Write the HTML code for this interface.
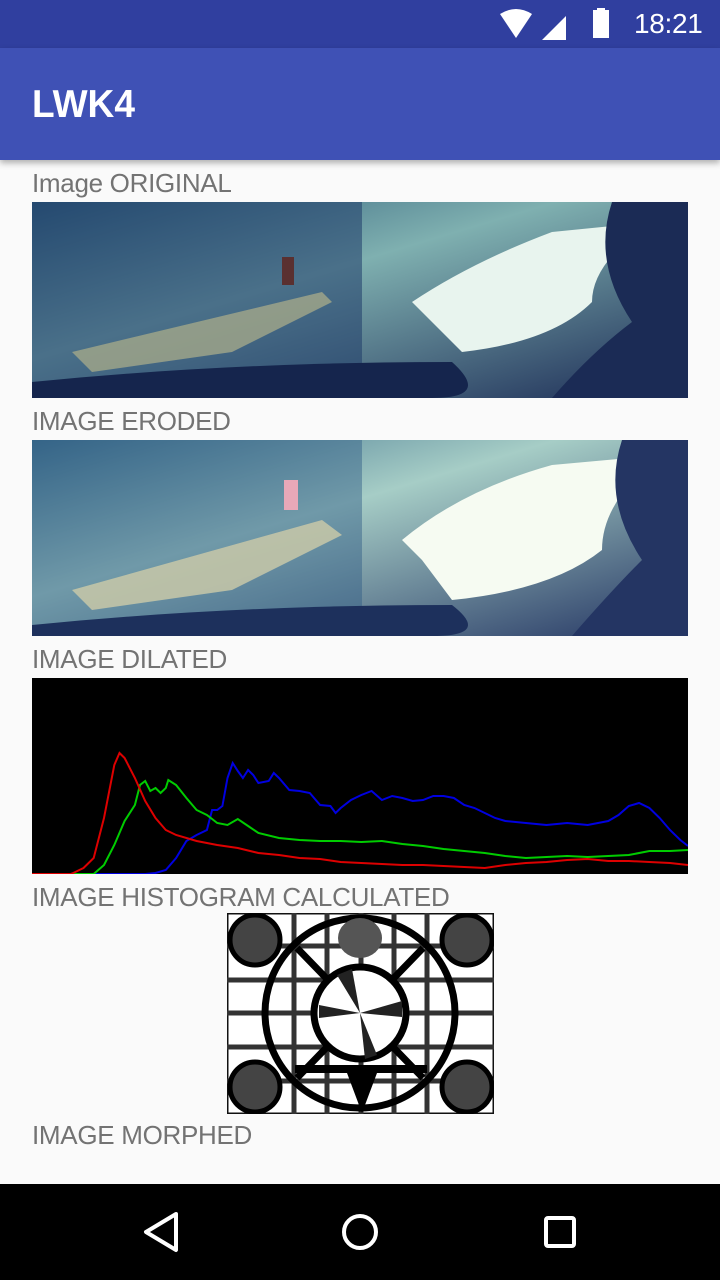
<!DOCTYPE html>
<html><head><meta charset="utf-8">
<style>
*{margin:0;padding:0;box-sizing:border-box}
body{width:720px;height:1280px;background:#fafafa;font-family:"Liberation Sans",sans-serif;position:relative;overflow:hidden}
.abs{position:absolute}
.lbl{position:absolute;left:32px;font-size:26px;color:#737373;letter-spacing:-0.3px;line-height:30px;white-space:nowrap}
</style></head><body>
<div class="abs" style="left:0;top:0;width:720px;height:48px;background:#303f9f">
  <svg class="abs" style="left:496px;top:8px" width="120" height="32">
    <path d="M4 6 Q20 -4 36 6 L20 30 Z" fill="#fff"/>
    <path d="M46 32 L70 8 L70 32 Z" fill="#fff"/>
    <rect x="97" y="2" width="16" height="28" fill="#fff"/><rect x="101" y="0" width="8" height="3" fill="#fff"/>
  </svg>
  <div class="abs" style="left:634px;top:8px;color:#fff;font-size:28px;letter-spacing:-0.3px">18:21</div>
</div>
<div class="abs" style="left:0;top:48px;width:720px;height:112px;background:#3f51b5;box-shadow:0 3px 6px rgba(0,0,0,0.3)">
  <div class="abs" style="left:32px;top:35px;color:#fff;font-size:39px;font-weight:bold;transform:scaleX(0.95);transform-origin:left">LWK4</div>
</div>

<div class="lbl" style="top:168px">Image ORIGINAL</div>
<svg class="abs" style="left:32px;top:202px" width="656" height="196">
  <defs><linearGradient id="g1" x1="0" y1="0" x2="1" y2="1"><stop offset="0" stop-color="#2c5a78"/><stop offset="0.4" stop-color="#7fb0b0"/><stop offset="1" stop-color="#1b2a55"/></linearGradient></defs>
  <rect width="656" height="196" fill="url(#g1)"/>
  <rect x="0" y="0" width="330" height="196" fill="#1f3c6a" opacity="0.55"/>
  <path d="M40 150 L290 90 L300 100 L200 150 L60 170Z" fill="#a3a88a" opacity="0.8"/>
  <path d="M380 100 Q440 60 520 30 L620 20 Q560 60 560 100 Q520 140 430 150 L400 120Z" fill="#e8f4ee"/>
  <path d="M580 0 L656 0 L656 196 L520 196 Q560 150 600 120 Q560 60 580 0Z" fill="#1b2b55"/>
  <path d="M0 180 Q200 160 420 160 Q460 196 400 196 L0 196Z" fill="#15254d"/>
  <rect x="250" y="55" width="12" height="28" fill="#5a3030"/>
</svg>

<div class="lbl" style="top:406px">IMAGE ERODED</div>
<svg class="abs" style="left:32px;top:440px" width="656" height="196">
  <defs><linearGradient id="g2" x1="0" y1="0" x2="1" y2="1"><stop offset="0" stop-color="#3a6c8a"/><stop offset="0.4" stop-color="#a6cdc6"/><stop offset="1" stop-color="#243563"/></linearGradient></defs>
  <rect width="656" height="196" fill="url(#g2)"/>
  <rect x="0" y="0" width="330" height="196" fill="#2f5c84" opacity="0.45"/>
  <path d="M40 150 L290 80 L310 95 L200 150 L60 170Z" fill="#c8c8a8" opacity="0.85"/>
  <path d="M370 100 Q430 50 520 25 L630 15 Q570 60 570 110 Q520 150 420 160 L390 120Z" fill="#f6fbf2"/>
  <path d="M590 0 L656 0 L656 196 L540 196 Q580 150 610 120 Q570 60 590 0Z" fill="#243563"/>
  <path d="M0 185 Q200 165 420 165 Q460 196 400 196 L0 196Z" fill="#1d305c"/>
  <rect x="252" y="40" width="14" height="30" fill="#e8a8b8"/>
</svg>

<div class="lbl" style="top:644px">IMAGE DILATED</div>
<svg id="hist" class="abs" style="left:32px;top:678px;background:#000" width="656" height="196"></svg>

<div class="lbl" style="top:882px">IMAGE HISTOGRAM CALCULATED</div>
<svg class="abs" style="left:227px;top:913px" width="267" height="201" viewBox="0 0 267 201">
  <rect width="267" height="201" fill="#fff" stroke="#111" stroke-width="3"/>
  <g stroke="#333" stroke-width="5">
    <line x1="0" y1="33" x2="267" y2="33"/><line x1="0" y1="67" x2="267" y2="67"/><line x1="0" y1="100" x2="267" y2="100"/><line x1="0" y1="134" x2="267" y2="134"/><line x1="0" y1="168" x2="267" y2="168"/>
    <line x1="67" y1="0" x2="67" y2="201"/><line x1="100" y1="0" x2="100" y2="201"/><line x1="134" y1="0" x2="134" y2="201"/><line x1="167" y1="0" x2="167" y2="201"/><line x1="200" y1="0" x2="200" y2="201"/>
  </g>
  <g stroke="#000" stroke-width="7" fill="none">
    <circle cx="133" cy="100" r="95"/>
    <line x1="70" y1="35" x2="196" y2="165"/><line x1="196" y1="35" x2="70" y2="165"/>
  </g>
  <circle cx="133" cy="100" r="46" fill="#fff" stroke="#000" stroke-width="7"/>
  <g fill="#222"><path d="M133 100 L110 62 L125 56Z"/><path d="M133 100 L175 88 L175 104Z"/><path d="M133 100 L150 142 L138 146Z"/><path d="M133 100 L92 105 L92 92Z"/></g>
  <path d="M68 152 L200 152 L200 160 L150 160 L135 200 L120 160 L68 160Z" fill="#000"/>
  <ellipse cx="133" cy="25" rx="22" ry="20" fill="#555"/>
  <g fill="#444" stroke="#000" stroke-width="5">
    <circle cx="28" cy="27" r="25"/><circle cx="240" cy="27" r="25"/><circle cx="28" cy="174" r="25"/><circle cx="240" cy="174" r="25"/>
  </g>
</svg>

<div class="lbl" style="top:1120px">IMAGE MORPHED</div>

<div class="abs" style="left:0;top:1184px;width:720px;height:96px;background:#000">
  <svg class="abs" style="left:0;top:0" width="720" height="96">
    <path d="M176 30 L146 48 L176 66 Z" fill="none" stroke="#fff" stroke-width="4" stroke-linejoin="round"/>
    <circle cx="360" cy="48" r="16" fill="none" stroke="#fff" stroke-width="4"/>
    <rect x="546" y="34" width="28" height="28" rx="2" fill="none" stroke="#fff" stroke-width="4"/>
  </svg>
</div>

<script>
const redBins=[0,15,16,20,24,28,32,34,36,40,44,48,52,56,64,72,80,88,96,104,112,120,128,136,144,152,160,168,176,184,192,200,208,216,224,232,240,248,255];
const redVals=[0,0,1,6,16,56,109,121,116,96,73,56,44,39,33,29,26,21,19,16,15,12,11,10,9,9,8,7,6,9,11,12,14,15,13,13,12,11,9];
const greenBins=[0,24,28,32,36,40,42,44,46,48,50,52,53,56,60,64,68,72,76,80,84,88,96,104,112,120,128,136,144,152,160,168,176,184,192,200,208,216,224,232,240,248,255];
const greenVals=[0,0,9,29,53,69,89,93,83,86,81,86,94,89,76,64,59,51,49,55,48,41,36,34,33,33,32,33,30,28,25,23,21,18,16,17,18,17,18,19,23,23,24];
const blueBins=[0,44,48,52,56,60,64,68,70,72,74,76,78,80,82,84,86,88,92,94,96,100,104,108,112,116,118,120,124,128,132,136,140,144,148,152,156,160,164,168,172,176,180,184,192,200,208,216,224,228,232,236,240,244,248,252,255];
const blueVals=[0,0,1,4,16,33,39,44,64,64,68,96,111,103,96,104,99,91,93,101,96,84,83,81,69,68,61,66,74,79,83,74,78,76,73,74,78,78,76,69,66,61,56,53,51,49,51,49,53,59,68,71,66,56,44,34,28];
const W=656,H=196,svg=document.getElementById('hist');
const xs=b=>b/255*W, ys=v=>H-v;
function draw(bins,vals,color,name){
  const p=document.createElementNS('http://www.w3.org/2000/svg','polyline');
  p.setAttribute('points',bins.map((b,i)=>xs(b).toFixed(1)+','+ys(vals[i]).toFixed(1)).join(' '));
  p.setAttribute('fill','none');p.setAttribute('stroke',color);p.setAttribute('stroke-width','2');
  
  
  svg.appendChild(p);
}
draw(blueBins,blueVals,'#0000e0','blue-series');
draw(greenBins,greenVals,'#00cc00','green-series');
draw(redBins,redVals,'#dd0000','red-series');
</script>
</body></html>
